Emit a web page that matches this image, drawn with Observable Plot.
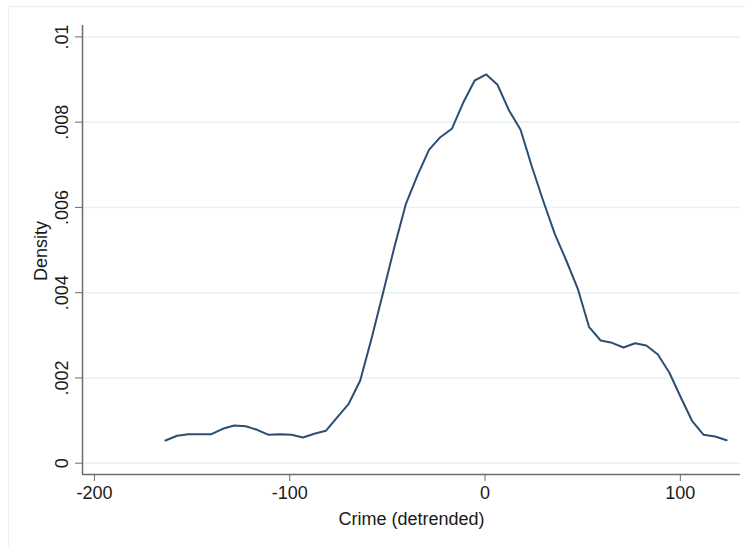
<!DOCTYPE html>
<html>
<head>
<meta charset="utf-8">
<script src="https://cdn.jsdelivr.net/npm/d3@7"></script>
<script src="https://cdn.jsdelivr.net/npm/@observablehq/plot@0.6"></script>
<style>
  html, body { margin: 0; padding: 0; background: #fff; }
  #wrap { position: relative; width: 745px; height: 546px; overflow: hidden; }
  #border { position: absolute; left: 8px; top: 6px; width: 800px; height: 600px; border: 1.5px solid #e9eff0; box-sizing: border-box; pointer-events: none; }
</style>
</head>
<body>
<div id="wrap"><div id="border"></div></div>
<script>
// Kernel density estimate of detrended crime
const crime = [-163.6, -157.7, -151.9, -146.0, -140.1, -134.3, -128.4, -122.5, -116.7, -110.8,
  -105.0, -99.1, -93.2, -87.4, -81.5, -75.6, -69.8, -63.9, -58.1, -52.2,
  -46.3, -40.5, -34.6, -28.7, -22.9, -17.0, -11.2, -5.3, 0.6, 6.4,
  12.3, 18.2, 24.0, 29.9, 35.7, 41.6, 47.5, 53.3, 59.2, 65.0,
  70.9, 76.8, 82.6, 88.5, 94.4, 100.2, 106.1, 111.9, 117.8, 123.7];
const density = [0.000532, 0.000643, 0.000680, 0.000680, 0.000680, 0.000807, 0.000884, 0.000868, 0.000783, 0.000666,
  0.000680, 0.000666, 0.000603, 0.000690, 0.000760, 0.001080, 0.001393, 0.001940, 0.002925, 0.004000,
  0.005090, 0.006085, 0.006750, 0.007350, 0.007647, 0.007844, 0.008454, 0.008977, 0.009118, 0.008876,
  0.008274, 0.007821, 0.006953, 0.006140, 0.005381, 0.004755, 0.004091, 0.003190, 0.002878, 0.002824,
  0.002714, 0.002815, 0.002761, 0.002550, 0.002121, 0.001548, 0.000985, 0.000666, 0.000626, 0.000540];
const xTicks = [-200, -100, 0, 100];
const yTicks = [0, 0.002, 0.004, 0.006, 0.008, 0.01];
const yTickLabels = ["0", ".002", ".004", ".006", ".008", ".01"];
const xTitle = "Crime (detrended)";
const yTitle = "Density";

const data = crime.map((c, i) => ({x: c, y: density[i]}));
const yTickData = yTicks.map((v, i) => ({v, label: yTickLabels[i]}));

const xDomain = [-206.1, 130.8];
const yDomain = [-0.000265, 0.010267];
const axisColor = "#6b6b6b";
const textColor = "#1a1a1a";

const chart = Plot.plot({
  width: 745,
  height: 546,
  marginLeft: 82,
  marginRight: 5,
  marginTop: 25,
  marginBottom: 72,
  style: {fontFamily: "'Liberation Sans', Arial, sans-serif", fontSize: "18px", color: textColor, background: "transparent"},
  x: {domain: xDomain, label: null},
  y: {domain: yDomain, label: null},
  marks: [
    Plot.ruleY(yTicks, {stroke: "#e8f0f1", strokeWidth: 1.5}),
    Plot.line(data, {x: "x", y: "y", stroke: "#2b4f72", strokeWidth: 2}),
    Plot.ruleX([xDomain[0]], {stroke: axisColor, strokeWidth: 1.5}),
    Plot.ruleY([yDomain[0]], {stroke: axisColor, strokeWidth: 1.5}),
    Plot.axisX({ticks: xTicks, tickSize: 7, tickPadding: 5, stroke: axisColor, fill: textColor, tickFormat: d => String(d), fontSize: 18, label: null}),
    Plot.axisY({ticks: yTicks, tickSize: 7, stroke: axisColor, tickFormat: () => "", label: null}),
    Plot.text(yTickData, {y: "v", text: "label", frameAnchor: "left", dx: -20, rotate: -90, lineAnchor: "middle", textAnchor: "middle", fill: textColor, fontSize: 18}),
    Plot.text([yTitle], {frameAnchor: "left", dx: -41, dy: 1, rotate: -90, lineAnchor: "middle", textAnchor: "middle", fill: textColor, fontSize: 18}),
    Plot.text([xTitle], {frameAnchor: "bottom", dy: 45, lineAnchor: "middle", textAnchor: "middle", fill: textColor, fontSize: 18})
  ]
});
document.getElementById("wrap").prepend(chart);
</script>
</body>
</html>
